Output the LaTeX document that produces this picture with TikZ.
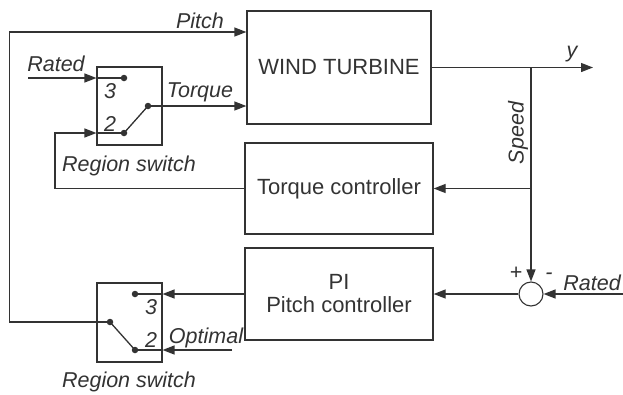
\documentclass[tikz,border=0pt]{standalone}
\usepackage{fontspec}
\setmainfont{Liberation Sans}
\usetikzlibrary{arrows.meta}
\definecolor{ink}{HTML}{333333}
\begin{document}
\begin{tikzpicture}[x=1pt,y=-1pt,
  every node/.style={text=ink,font=\fontsize{22}{25}\selectfont},
  blk/.style={draw=ink,line width=1.3pt,inner sep=0pt,align=center},
  swbox/.style={draw=ink,line width=1.1pt,inner sep=0pt},
  lbl/.style={font=\fontsize{21.5}{24}\selectfont\itshape,inner sep=0pt},
  wire/.style={draw=ink,line width=1.3pt},
  arr/.style={wire,-{Triangle[length=12pt,width=9pt]}},
  dot/.style={circle,fill=ink,inner sep=0pt,minimum size=6.5pt}]
\useasboundingbox (0,0) rectangle (623,394);
% blocks
\node[blk,minimum width=184pt,minimum height=113pt] (wt) at (339,67.5) {WIND TURBINE};
\node[blk,minimum width=188pt,minimum height=91pt] (tc) at (339,188.5) {Torque controller};
\node[blk,minimum width=188pt,minimum height=92pt] (pi) at (339,294) {PI\\[-2pt]Pitch controller};
\node[swbox,minimum width=65pt,minimum height=78pt] (sw1) at (129.5,106) {};
\node[swbox,minimum width=65pt,minimum height=79pt] (sw2) at (129.5,322.5) {};
\node[draw=ink,line width=1.1pt,circle,minimum size=24pt,inner sep=0pt] (sum) at (531,294) {};
% switch contacts
\node[dot] (a3) at (124,78) {};
\node[dot] (a2) at (124,133) {};
\node[dot] (ap) at (148,106) {};
\node[dot] (b3) at (135,294) {};
\node[dot] (b2) at (135,350) {};
\node[dot] (bp) at (110,322) {};
\draw[wire] (a2.center) -- (ap.center);
\draw[wire] (bp.center) -- (b2.center);
% coordinates
\coordinate (pl) at (9.5,32);
\coordinate (r1) at (28,78);
\coordinate (fb) at (55,133);
\coordinate (sp) at (531,67.5);
\coordinate (yend) at (593,67.5);
\coordinate (r2) at (623,294);
\coordinate (op) at (232,350);
% connectors
\draw[arr] (bp.center) -| (pl) -- (pl -| wt.west);
\draw[arr] (r1) -- (r1 -| sw1.west);
\draw[wire] (r1 -| sw1.west) -- (a3.center);
\draw[arr] (ap.center) -- (ap.center -| wt.west);
\draw[arr] (tc.west) -| (fb) -- (fb -| sw1.west);
\draw[wire] (fb -| sw1.west) -- (a2.center);
\draw[arr] (wt.east) -- (yend);
\draw[arr] (sp) -- (sum.north);
\draw[arr] (sp |- tc.east) -- (tc.east);
\draw[arr] (r2) -- (sum.east);
\draw[arr] (sum.west) -- (pi.east);
\draw[arr] (pi.west) -- (pi.west -| sw2.east);
\draw[wire] (pi.west -| sw2.east) -- (b3.center);
\draw[arr] (op) -- (op -| sw2.east);
\draw[wire] (op -| sw2.east) -- (b2.center);
% labels
\node[lbl] (lpitch) at (200,21) {Pitch};
\node[lbl] (lrated1) at (56,64) {Rated};
\node[lbl] (ltorque) at (200,92) {Torque};
\node[lbl] (l3a) at (110,91) {3};
\node[lbl] (l2a) at (110,124) {2};
\node[lbl] (lreg1) at (129,166) {Region switch};
\node[lbl] (l3b) at (151,307) {3};
\node[lbl] (l2b) at (151,340) {2};
\node[lbl] (lopt) at (206,338) {Optimal};
\node[lbl] (lreg2) at (129,382) {Region switch};
\node[lbl] (ly) at (572,54) {y};
\node[lbl,rotate=90] (lspeed) at (518,133) {Speed};
\node[lbl] (lplus) at (516,273) {+};
\node[lbl] (lminus) at (549,276) {-};
\node[lbl,anchor=east] (lrated2) at (621,283) {Rated};
\end{tikzpicture}
\end{document}
